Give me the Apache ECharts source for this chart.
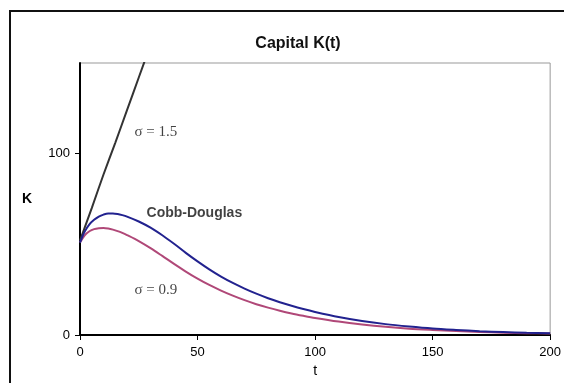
<!DOCTYPE html>
<html>
<head>
<meta charset="utf-8">
<script src="https://cdn.jsdelivr.net/npm/echarts@6/dist/echarts.min.js"></script>
<style>html,body{margin:0;padding:0;background:#fff}#c{width:564px;height:383px}</style>
</head>
<body>
<div id="c"></div>
<script>
// t values and series
const tBlack = [0, 5, 10, 15, 20, 25, 30];
const kSigma15 = [52, 70, 88.5, 106, 124, 142, 160];

const tCurve = [0, 2, 4, 6, 8, 10, 12, 14, 16, 18, 20, 25, 30, 35, 40, 45, 50, 55, 60, 65, 70, 75, 80, 85, 90, 95, 100, 110, 120, 130, 140, 150, 160, 170, 180, 190, 200];
const kCobb = [51, 57, 61, 63.5, 65.3, 66.4, 67, 67, 66.7, 66.1, 65.3, 62.6, 59.2, 55, 50.3, 45.3, 40.6, 36.2, 32.2, 28.7, 25.6, 22.8, 20.3, 18.1, 16.1, 14.3, 12.7, 9.9, 7.7, 6, 4.7, 3.6, 2.8, 2.1, 1.6, 1.2, 0.9];
const kSigma09 = [51, 55, 57.2, 58.4, 58.9, 59, 58.7, 58.1, 57.3, 56.3, 55.1, 51.8, 47.9, 43.6, 39.2, 35, 31.1, 27.6, 24.5, 21.7, 19.2, 17, 15.1, 13.4, 11.9, 10.6, 9.4, 7.4, 5.8, 4.5, 3.5, 2.8, 2.2, 1.7, 1.3, 1, 0.8];

const xTicks = [0, 50, 100, 150, 200];
const yTicks = [0, 100];

const annotations = [
  {text: 'σ = 1.5', t: 23.2, k: 112, serif: true},
  {text: 'Cobb-Douglas', t: 28.3, k: 67, serif: false},
  {text: 'σ = 0.9', t: 23.2, k: 25, serif: true}
];

const zip = (a, b) => a.map((v, i) => [v, b[i]]);

const chart = echarts.init(document.getElementById('c'), null, {renderer: 'canvas'});
chart.setOption({
  animation: false,
  backgroundColor: '#fff',
  title: {
    text: 'Capital K(t)',
    left: 293, top: 31, textAlign: 'center',
    textStyle: {fontFamily: 'Liberation Sans', fontSize: 16, fontWeight: 'bold', color: '#111'}
  },
  graphic: [{
    type: 'rect', silent: true, z: -1,
    shape: {x: 10, y: 11, width: 600, height: 400},
    style: {fill: 'none', stroke: '#111', lineWidth: 2}
  }],
  grid: {left: 80, top: 63, right: 10, bottom: 41, show: true, borderColor: '#999', borderWidth: 1, backgroundColor: 'transparent'},
  xAxis: {
    type: 'value', min: 0, max: 200, interval: 50,
    name: 't', nameLocation: 'middle', nameGap: 29,
    nameTextStyle: {fontFamily: 'Liberation Sans', fontSize: 14, color: '#000'},
    axisLine: {show: true, lineStyle: {color: '#000', width: 2}},
    axisTick: {show: true, length: 5, lineStyle: {color: '#000', width: 1}},
    axisLabel: {fontFamily: 'Liberation Sans', fontSize: 13, color: '#000', margin: 11,
      customValues: xTicks},
    splitLine: {show: false}
  },
  yAxis: {
    type: 'value', min: 0, max: 150, interval: 50,
    name: 'K', nameLocation: 'middle', nameGap: 48, nameRotate: 0,
    nameTextStyle: {fontFamily: 'Liberation Sans', fontSize: 14, fontWeight: 'bold', color: '#000'},
    axisLine: {show: true, lineStyle: {color: '#000', width: 2}},
    axisTick: {show: true, length: 5, customValues: yTicks, lineStyle: {color: '#000', width: 1}},
    axisLabel: {fontFamily: 'Liberation Sans', fontSize: 13, color: '#000', margin: 10, customValues: yTicks},
    splitLine: {show: false}
  },
  series: [
    {type: 'line', name: 'σ = 1.5', data: zip(tBlack, kSigma15), showSymbol: false, smooth: 0.3, clip: true,
      lineStyle: {color: '#333', width: 2}},
    {type: 'line', name: 'σ = 0.9', data: zip(tCurve, kSigma09), showSymbol: false, smooth: 0.3, clip: true,
      lineStyle: {color: '#b04878', width: 2}},
    {type: 'line', name: 'Cobb-Douglas', data: zip(tCurve, kCobb), showSymbol: false, smooth: 0.3, clip: true,
      lineStyle: {color: '#22228f', width: 2}},
    {type: 'scatter', symbolSize: 0, silent: true,
      data: annotations.map(a => ({value: [a.t, a.k], name: a.text,
        label: {show: true, position: 'right', distance: 0, formatter: a.text,
          fontFamily: a.serif ? 'Liberation Serif' : 'Liberation Sans',
          fontSize: a.serif ? 15 : 14, fontWeight: a.serif ? 'normal' : 'bold', color: '#111'}}))
    }
  ]
});
</script>
</body>
</html>
